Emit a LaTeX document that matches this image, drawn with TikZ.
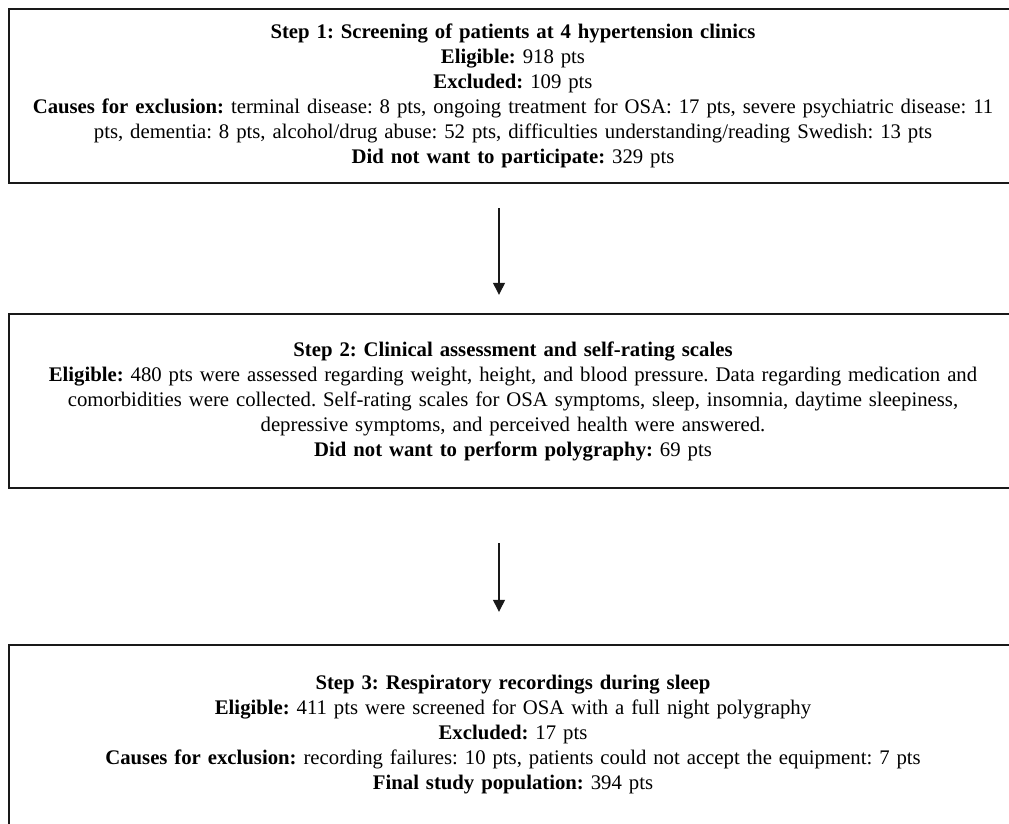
\documentclass[tikz,border=0pt]{standalone}
\usepackage{fontspec}
\setmainfont{Liberation Serif}
\usetikzlibrary{arrows.meta}
\frenchspacing

\begin{document}
\begin{tikzpicture}[x=1pt, y=-1pt,
    font=\fontsize{20.75}{25}\selectfont,
    >={Triangle[width=12pt,length=12pt]},
    stepbox/.style={align=center, text width=1000pt, inner sep=0pt},
    frame/.style={draw=black!90, line width=2pt},
    flow/.style={->, line width=1.3pt, black!90}]
  \useasboundingbox (0,0) rectangle (1009,824);
  \clip (0,0) rectangle (1009,824);
  % three-step patient flow, boxes run off the right edge
  \coordinate (lft) at (9,0);
  \coordinate (rgt) at (1030,0);
  \node[stepbox, minimum height=174pt] (s1) at (513,96) {%
    \textbf{Step 1: Screening of patients at 4 hypertension clinics}\\
    \textbf{Eligible:} 918 pts\\
    \textbf{Excluded:} 109 pts\\
    \textbf{Causes for exclusion:} terminal disease: 8 pts, ongoing treatment for OSA: 17 pts, severe psychiatric disease: 11\\
    pts, dementia: 8 pts, alcohol/drug abuse: 52 pts, difficulties understanding/reading Swedish: 13 pts\\
    \textbf{Did not want to participate:} 329 pts};
  \node[stepbox, minimum height=174pt] (s2) at (513,401) {%
    \textbf{Step 2: Clinical assessment and self-rating scales}\\
    \textbf{Eligible:} 480 pts were assessed regarding weight, height, and blood pressure. Data regarding medication and\\
    comorbidities were collected. Self-rating scales for OSA symptoms, sleep, insomnia, daytime sleepiness,\\
    depressive symptoms, and perceived health were answered.\\
    \textbf{Did not want to perform polygraphy:} 69 pts};
  \node[stepbox, minimum height=180pt] (s3) at (513,735) {%
    \textbf{Step 3: Respiratory recordings during sleep}\\
    \textbf{Eligible:} 411 pts were screened for OSA with a full night polygraphy\\
    \textbf{Excluded:} 17 pts\\
    \textbf{Causes for exclusion:} recording failures: 10 pts, patients could not accept the equipment: 7 pts\\
    \textbf{Final study population:} 394 pts};
  \draw[frame] (s1.north -| lft) rectangle (s1.south -| rgt);
  \draw[frame] (s2.north -| lft) rectangle (s2.south -| rgt);
  \draw[frame] (s3.north -| lft) rectangle (s3.south -| rgt);
  \draw[flow, shorten <=25pt, shorten >=19pt]
    ([xshift=-14pt]s1.south) -- ([xshift=-14pt]s2.north);
  \draw[flow, shorten <=55pt, shorten >=33pt]
    ([xshift=-14pt]s2.south) -- ([xshift=-14pt]s3.north);
\end{tikzpicture}
\end{document}
